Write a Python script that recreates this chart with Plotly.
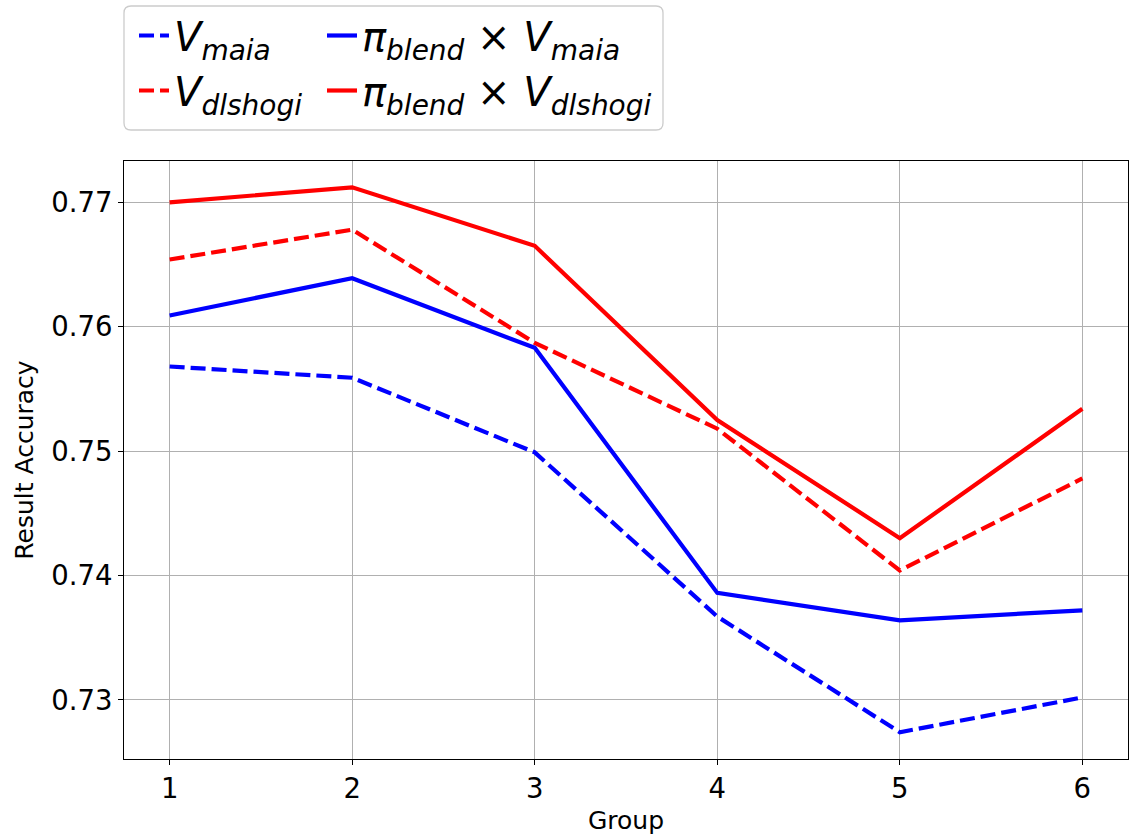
import plotly.graph_objects as go

groups = [1, 2, 3, 4, 5, 6]
v_maia = [0.7568, 0.7559, 0.7499, 0.7367, 0.7274, 0.7302]
v_dlshogi = [0.7654, 0.7678, 0.7587, 0.7518, 0.7404, 0.7478]
blend_maia = [0.7609, 0.7639, 0.7583, 0.7386, 0.7364, 0.7372]
blend_dlshogi = [0.7700, 0.7712, 0.7665, 0.7525, 0.7430, 0.7534]

y_ticks = [0.73, 0.74, 0.75, 0.76, 0.77]
y_tick_labels = ["0.73", "0.74", "0.75", "0.76", "0.77"]

name_v_maia = "<i>V</i><sub><i>maia</i></sub>"
name_v_dlshogi = "<i>V</i><sub><i>dlshogi</i></sub>"
name_b_maia = "<i>π</i><sub><i>blend</i></sub> × <i>V</i><sub><i>maia</i></sub>"
name_b_dlshogi = "<i>π</i><sub><i>blend</i></sub> × <i>V</i><sub><i>dlshogi</i></sub>"

FONT = "DejaVu Sans"
LW = 4.2
DASH = "15px,6px"

fig = go.Figure()
fig.add_trace(go.Scatter(x=groups, y=v_maia, mode="lines", name=name_v_maia,
                         line=dict(color="#0000ff", width=LW, dash=DASH), legend="legend"))
fig.add_trace(go.Scatter(x=groups, y=v_dlshogi, mode="lines", name=name_v_dlshogi,
                         line=dict(color="#ff0000", width=LW, dash=DASH), legend="legend"))
fig.add_trace(go.Scatter(x=groups, y=blend_maia, mode="lines", name=name_b_maia,
                         line=dict(color="#0000ff", width=LW), legend="legend2"))
fig.add_trace(go.Scatter(x=groups, y=blend_dlshogi, mode="lines", name=name_b_dlshogi,
                         line=dict(color="#ff0000", width=LW), legend="legend2"))

W, H = 1135, 840
L, R, T, B = 124, 7, 161, 81
pw, ph = W - L - R, H - T - B

def px_x(p):
    return (p - L) / pw

def px_y(p):
    return (H - B - p) / ph

# rounded legend frame
x0, x1 = px_x(124), px_x(663)
y0, y1 = px_y(130), px_y(6)
rx, ry = 7 / pw, 7 / ph
path = (f"M {x0+rx},{y0} L {x1-rx},{y0} Q {x1},{y0} {x1},{y0+ry} "
        f"L {x1},{y1-ry} Q {x1},{y1} {x1-rx},{y1} L {x0+rx},{y1} "
        f"Q {x0},{y1} {x0},{y1-ry} L {x0},{y0+ry} Q {x0},{y0} {x0+rx},{y0} Z")
fig.add_shape(type="path", path=path, xref="paper", yref="paper",
              line=dict(color="#cccccc", width=1.3), fillcolor="rgba(255,255,255,0.8)")

legend_common = dict(font=dict(family=FONT, size=40, color="black"),
                     bgcolor="rgba(0,0,0,0)", borderwidth=0,
                     xanchor="left", yanchor="top", orientation="v",
                     tracegroupgap=0)

fig.update_layout(
    width=W, height=H,
    margin=dict(l=L, r=R, t=T, b=B, pad=0, autoexpand=False),
    paper_bgcolor="white", plot_bgcolor="white",
    font=dict(family=FONT, color="black"),
    legend=dict(x=px_x(134), y=px_y(3), **legend_common),
    legend2=dict(x=px_x(322), y=px_y(3), **legend_common),
    xaxis=dict(
        range=[0.75, 6.25], tickmode="array", tickvals=groups,
        ticktext=[str(g) for g in groups],
        showgrid=True, gridcolor="#b0b0b0", gridwidth=1.1,
        showline=True, linecolor="black", linewidth=1.1, mirror=True,
        ticks="outside", ticklen=5, tickwidth=1.1, tickcolor="black",
        tickfont=dict(family=FONT, size=27.5, color="black"),
        title=dict(text="Group", font=dict(family=FONT, size=25, color="black"), standoff=8),
        zeroline=False,
    ),
    yaxis=dict(
        range=[0.72525, 0.77332], tickmode="array", tickvals=y_ticks,
        ticktext=y_tick_labels,
        showgrid=True, gridcolor="#b0b0b0", gridwidth=1.1,
        showline=True, linecolor="black", linewidth=1.1, mirror=True,
        ticks="outside", ticklen=5, tickwidth=1.1, tickcolor="black",
        tickfont=dict(family=FONT, size=27.5, color="black"),
        title=dict(text="Result Accuracy", font=dict(family=FONT, size=25, color="black"), standoff=10),
        zeroline=False,
    ),
)

fig.write_html("out.html")
